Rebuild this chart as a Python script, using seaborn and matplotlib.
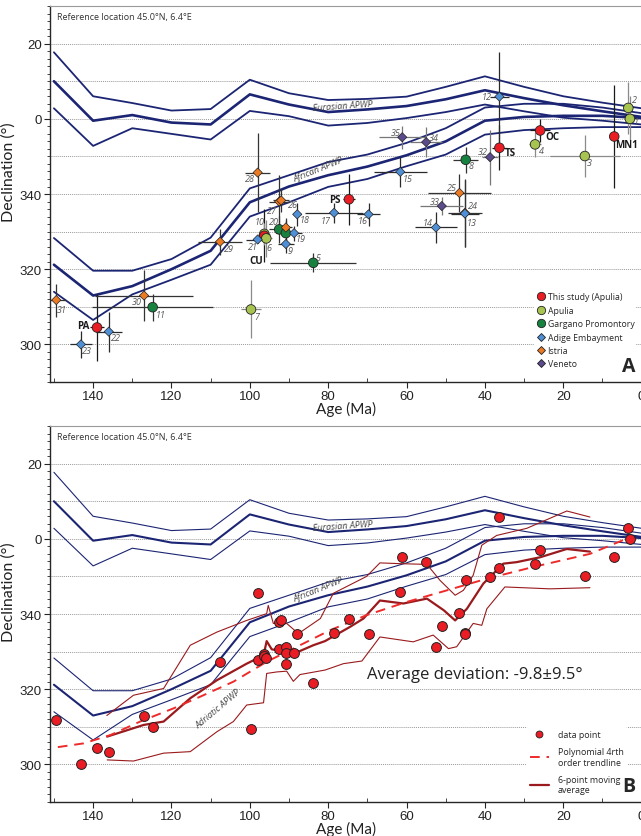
import numpy as np
import pandas as pd
import matplotlib
matplotlib.use('Agg')
import matplotlib.pyplot as plt
from matplotlib.lines import Line2D
import seaborn as sns

# ---- APWP curves (declination, 360 = 0 deg) ----
apwp_age = [150, 140, 130, 120, 110, 100, 90, 80, 70, 60, 50, 40, 30, 20, 10, 0]
eur_up = [377.7, 366.0, 364.2, 362.2, 362.6, 370.4, 366.8, 365.0, 365.3, 365.9, 368.5, 371.3, 368.5, 366.0, 364.3, 362.8]
eur_mid = [370.0, 359.5, 361.0, 359.0, 358.5, 366.5, 363.8, 361.8, 362.5, 363.4, 365.2, 367.6, 365.5, 363.6, 362.0, 360.5]
eur_lo = [362.8, 352.8, 357.5, 356.0, 354.5, 362.1, 360.7, 358.2, 358.9, 360.2, 361.8, 363.8, 362.0, 360.3, 359.5, 358.5]
af_up = [328.3, 319.6, 319.6, 322.7, 328.4, 341.5, 345.0, 348.5, 350.5, 353.6, 357.5, 363.0, 364.0, 364.0, 363.0, 361.5]
af_mid = [321.2, 313.0, 315.5, 320.0, 324.9, 337.8, 342.0, 345.0, 347.3, 350.3, 354.0, 359.5, 360.5, 360.8, 360.8, 360.2]
af_lo = [314.0, 306.5, 313.3, 317.2, 321.2, 334.0, 337.8, 341.9, 344.0, 347.4, 350.5, 355.8, 357.0, 357.5, 357.8, 357.8]

# ---- paleomagnetic sites ----
site_label = ['31', 'PA', '22', '23', '30', '11', '29', '7', '21', '10', 'CU', '6', '20', '', '',
              '19', '9', '18', '28', '27', '26', '17', 'PS', '16', '5', '15', '35', '34', '8', '32',
              'TS', '12', '25', '33', '24', '13', '14', 'OC', '4', '3', 'MN1', '2', '1']
site_group = ['Istria', 'This study (Apulia)', 'Adige Embayment', 'Adige Embayment', 'Istria',
              'Gargano Promontory', 'Istria', 'Apulia', 'Adige Embayment', 'Apulia',
              'This study (Apulia)', 'Apulia', 'Gargano Promontory', 'Istria', 'Gargano Promontory',
              'Adige Embayment', 'Adige Embayment', 'Adige Embayment', 'Istria', 'Istria', 'Istria',
              'Adige Embayment', 'This study (Apulia)', 'Adige Embayment', 'Gargano Promontory',
              'Adige Embayment', 'Veneto', 'Veneto', 'Gargano Promontory', 'Veneto',
              'This study (Apulia)', 'Adige Embayment', 'Istria', 'Veneto', 'Istria',
              'Adige Embayment', 'Adige Embayment', 'This study (Apulia)', 'Apulia', 'Apulia',
              'This study (Apulia)', 'Apulia', 'Apulia']
site_age = [149.4, 139.0, 136.0, 143.1, 127.0, 124.8, 107.6, 99.7, 98.0, 96.3, 96.3, 95.8, 92.5, 90.8, 90.8,
            88.7, 90.8, 87.9, 98.0, 92.5, 92.0, 78.5, 74.7, 69.7, 83.8, 61.6, 61.1, 55.0, 44.9, 38.7,
            36.3, 36.3, 46.5, 51.0, 45.1, 45.1, 52.5, 25.9, 27.2, 14.5, 7.0, 3.4, 3.0]
site_dec = [311.8, 304.5, 303.4, 300.0, 313.0, 309.9, 327.3, 309.3, 327.9, 329.4, 328.9, 328.2, 330.6, 331.1, 329.6,
            329.6, 326.7, 334.6, 345.7, 338.0, 338.3, 335.0, 338.6, 334.6, 321.7, 345.9, 355.1, 353.8, 349.1, 349.8,
            352.3, 365.9, 340.3, 336.8, 335.0, 334.8, 331.1, 356.9, 353.2, 350.1, 355.3, 362.9, 360.0]
site_age_err = [2.5, 1.7, 3.3, 2.8, 12.5, 15.4, 5.7, 2.5, 3.0, 1.5, 1.5, 1.5, 2.5, 1.5, 2.5,
                2.0, 2.0, 1.0, 3.2, 2.5, 2.0, 7.5, 1.5, 3.0, 11.0, 6.8, 6.0, 4.0, 3.2, 2.0,
                2.0, 2.5, 8.0, 5.5, 4.3, 3.5, 5.3, 2.5, 1.5, 9.0, 0.5, 1.0, 1.0]
site_dec_err = [4.4, 8.8, 5.3, 3.5, 6.8, 3.6, 3.5, 7.7, 1.0, 3.0, 7.0, 5.0, 3.5, 2.5, 3.5,
                2.0, 2.5, 3.0, 10.5, 7.0, 3.0, 2.7, 6.8, 3.0, 2.5, 4.0, 3.0, 4.0, 3.5, 7.3,
                6.0, 12.0, 5.0, 2.5, 9.0, 9.0, 4.0, 3.0, 3.3, 5.5, 13.7, 7.0, 6.0]

# ---- panel B curves ----
trend_age = [149.0, 142.4, 135.6, 128.0, 119.5, 112.7, 104.2, 95.7, 87.2, 79.5, 70.2, 60.0, 49.7, 39.5, 27.7, 13.2, 3.0]
trend_dec = [304.6, 305.6, 307.8, 311.4, 314.9, 318.0, 322.0, 327.3, 331.7, 335.7, 339.7, 343.2, 346.3, 349.4, 352.5, 356.0, 360.4]

ma_age = [136.4, 127.1, 122.0, 115.2, 108.4, 100.8, 96.5, 95.7, 94.4, 91.4, 89.7, 88.0, 83.8, 80.8, 74.4,
          71.0, 66.8, 60.8, 54.8, 50.5, 47.6, 44.6, 40.4, 35.3, 31.9, 25.9, 19.1, 13.2]
ma_dec = [307.4, 310.5, 311.4, 317.6, 322.4, 326.8, 329.0, 332.8, 330.6, 330.1, 329.2, 329.8, 331.7, 332.8, 336.6,
          338.8, 343.6, 342.8, 344.1, 341.0, 338.3, 341.4, 348.1, 353.4, 353.8, 355.1, 357.3, 356.6]
env_up_age = [136.5, 129.7, 122.0, 115.2, 108.4, 100.8, 95.7, 95.3, 94.0, 90.6, 87.6, 82.0, 78.7, 70.2, 66.8,
              61.7, 54.8, 51.5, 47.6, 45.5, 43.0, 40.8, 37.0, 29.3, 19.1, 13.2]
env_up_dec = [313.0, 318.4, 320.2, 331.7, 335.2, 338.3, 340.1, 342.3, 337.5, 337.5, 334.8, 338.8, 345.5, 350.0, 353.6,
              353.4, 353.2, 349.0, 345.0, 346.3, 350.3, 358.3, 360.9, 362.8, 367.4, 365.8]
env_lo_age = [136.4, 129.7, 122.0, 115.2, 108.4, 104.2, 100.8, 96.5, 95.7, 93.1, 90.6, 88.9, 87.2, 80.8, 76.1,
              71.4, 66.8, 58.3, 53.2, 49.3, 47.2, 43.0, 40.8, 39.5, 34.9, 23.4, 13.2]
env_lo_dec = [301.2, 300.9, 303.0, 303.4, 308.7, 311.4, 315.8, 316.4, 324.2, 324.6, 324.8, 322.1, 323.9, 325.1, 326.8,
              327.5, 333.9, 332.6, 334.4, 330.8, 331.3, 337.5, 337.0, 341.4, 347.2, 346.7, 347.0]

sites = pd.DataFrame({'label': site_label, 'group': site_group, 'age': site_age, 'dec': site_dec,
                      'age_err': site_age_err, 'dec_err': site_dec_err})

# styles
NAVY = '#1c2573'
RED = '#ea1c24'
DARKRED = '#9a1a1d'
group_colors = {'This study (Apulia)': '#ea1c24', 'Apulia': '#a7c450', 'Gargano Promontory': '#17823f',
                'Adige Embayment': '#4f8fd6', 'Istria': '#ec7a22', 'Veneto': '#5b4a8c'}
group_markers = {'This study (Apulia)': 'o', 'Apulia': 'o', 'Gargano Promontory': 'o',
                 'Adige Embayment': 'D', 'Istria': 'D', 'Veneto': 'D'}
err_colors = {'This study (Apulia)': '#1a1a1a', 'Apulia': '#8a8a8a', 'Gargano Promontory': '#333333',
              'Adige Embayment': '#2a2a2a', 'Istria': '#333333', 'Veneto': '#777777'}
# label offsets in pixels (dx, dy)
label_offsets = {'31': (6, -9), 'PA': (-14, 2), '22': (7, -6), '23': (6, -6), '30': (-7, -6),
                 '11': (8, -7), '29': (9, -7), '7': (6, -7), '21': (-5, -7), '10': (-5, 12),
                 'CU': (-8, -25), '6': (3, -9), '20': (-5, 8), '19': (7, -5), '9': (4, -6),
                 '18': (7, -5), '28': (-8, -6), '27': (-7, -9), '26': (12, -4), '17': (-8, -8),
                 'PS': (-14, 0), '16': (-6, -6), '5': (5, 5), '15': (7, -7), '35': (-6, 5),
                 '34': (8, 5), '8': (5, -6), '32': (-7, 6), 'TS': (11, -5), '12': (-13, 0),
                 '25': (-7, 5), '33': (-7, 5), '24': (8, 7), '13': (7, -9), '14': (-8, 5),
                 'OC': (12, -6), '4': (6, -6), '3': (4, -6), 'MN1': (12, -8), '2': (6, 8), '1': (6, -3)}

sns.set_style('ticks')
plt.rcParams['font.family'] = ['Liberation Sans', 'DejaVu Sans']
ANNOT = ['Open Sans', 'DejaVu Sans']
LABELF = ['Lato', 'DejaVu Sans']

fig = plt.figure(figsize=(6.41, 8.37), dpi=100)
ax_a = fig.add_axes([0.078, 0.5424, 0.923, 0.4492])
ax_b = fig.add_axes([0.078, 0.0406, 0.923, 0.4492])


def style_axes(ax, letter):
    ax.set_xlim(151, 0)
    ax.set_ylim(290, 390)
    ax.set_xticks([140, 120, 100, 80, 60, 40, 20, 0])
    ax.set_xticks(np.arange(10, 151, 20), minor=True)
    ax.set_yticks([300, 320, 340, 360, 380])
    ax.set_yticklabels(['300', '320', '340', '0', '20'])
    ax.set_yticks(np.arange(290, 391, 2), minor=True)
    ax.tick_params(axis='both', which='major', labelsize=9.5, length=4, width=0.8, pad=2,
                   labelcolor='#222222')
    ax.tick_params(axis='y', which='minor', length=2, width=0.6)
    ax.tick_params(axis='x', which='minor', length=3, width=0.6, direction='in')
    for v in range(290, 391, 10):
        ax.axhline(v, color='#9a9a9a', lw=0.7, ls=(0, (1, 1)), zorder=0)
    ax.spines['right'].set_visible(False)
    ax.spines['top'].set_color('#9a9a9a')
    ax.spines['top'].set_linewidth(0.8)
    ax.spines['left'].set_linewidth(1.0)
    ax.spines['bottom'].set_linewidth(1.0)
    ax.set_xlabel('Age (Ma)', fontsize=11, labelpad=-1, family=LABELF, color='#222222')
    ax.set_ylabel('Declination (°)', fontsize=11.5, family=LABELF, color='#222222')
    ax.yaxis.set_label_coords(-0.058, 0.56)
    ax.text(0.012, 0.972, 'Reference location 45.0°N, 6.4°E', transform=ax.transAxes,
            fontsize=6.5, color='#333333', va='center', family=ANNOT)
    ax.text(0.99, 0.015, letter, transform=ax.transAxes, fontsize=14, fontweight='bold',
            ha='right', va='bottom', family=ANNOT, zorder=10)


def draw_apwp(ax, lw_out, lw_mid):
    for vals, lw in [(eur_up, lw_out), (eur_mid, lw_mid), (eur_lo, lw_out),
                     (af_up, lw_out), (af_mid, lw_mid), (af_lo, lw_out)]:
        sns.lineplot(x=apwp_age, y=vals, ax=ax, color=NAVY, lw=lw, sort=False,
                     estimator=None, zorder=2)
    ax.text(76.3, 363.6, 'Eurasian APWP', fontsize=6.5, style='italic', color='#444444',
            rotation=4, ha='center', va='center', family=ANNOT, zorder=3)
    ax.text(82.6, 346.7, 'African APWP', fontsize=6.5, style='italic', color='#444444',
            rotation=22, ha='center', va='center', family=ANNOT, zorder=3)


# ---------------- panel A ----------------
style_axes(ax_a, 'A')
draw_apwp(ax_a, 1.3, 1.9)

for g in group_colors:
    sub = sites[sites['group'] == g]
    ax_a.errorbar(sub['age'], sub['dec'], xerr=sub['age_err'], yerr=sub['dec_err'], fmt='none',
                  ecolor=err_colors[g], elinewidth=0.9, capsize=0, zorder=3)

circ = sites[sites['group'].map(group_markers) == 'o']
diam = sites[sites['group'].map(group_markers) == 'D']
sns.scatterplot(data=circ, x='age', y='dec', hue='group', palette=group_colors, s=48,
                marker='o', edgecolor='#222222', linewidth=0.6, legend=False, ax=ax_a, zorder=4)
sns.scatterplot(data=diam, x='age', y='dec', hue='group', palette=group_colors, s=22,
                marker='D', edgecolor='#222222', linewidth=0.5, legend=False, ax=ax_a, zorder=4)

for _, r in sites.iterrows():
    if not r['label']:
        continue
    dx, dy = label_offsets[r['label']]
    bold = r['group'] == 'This study (Apulia)'
    ax_a.annotate(r['label'], (r['age'], r['dec']), xytext=(dx, dy), textcoords='offset pixels',
                  ha='center', va='center', fontsize=7 if bold else 6.5,
                  fontweight='bold' if bold else 'normal', style='normal' if bold else 'italic',
                  color='#1a1a1a' if bold else '#555555', family=ANNOT, zorder=5)

handles_a = [Line2D([], [], ls='none', marker=group_markers[g], color=group_colors[g],
                    markeredgecolor='#222222', markersize=6 if group_markers[g] == 'o' else 4.2,
                    markeredgewidth=0.6, label=g) for g in group_colors]
leg_a = ax_a.legend(handles=handles_a, loc='lower left', bbox_to_anchor=(0.81, 0.02),
                    frameon=True, handletextpad=0.2, labelspacing=0.5,
                    borderpad=0.2, handlelength=1.2, prop={'family': ANNOT, 'size': 6.3})
leg_a.get_frame().set_edgecolor('none')
leg_a.get_frame().set_facecolor('white')
leg_a.get_frame().set_alpha(1)
leg_a.set_zorder(6)

# ---------------- panel B ----------------
style_axes(ax_b, 'B')
draw_apwp(ax_b, 0.8, 1.5)

sns.lineplot(x=env_up_age, y=env_up_dec, ax=ax_b, color=DARKRED, lw=0.8, sort=False, estimator=None, zorder=3)
sns.lineplot(x=env_lo_age, y=env_lo_dec, ax=ax_b, color=DARKRED, lw=0.8, sort=False, estimator=None, zorder=3)
sns.lineplot(x=ma_age, y=ma_dec, ax=ax_b, color=DARKRED, lw=1.6, sort=False, estimator=None, zorder=3)
sns.lineplot(x=trend_age, y=trend_dec, ax=ax_b, color='#ee2b2b', lw=1.4, sort=False, estimator=None,
             linestyle=(0, (5, 3.5)), zorder=3)

sns.scatterplot(data=sites, x='age', y='dec', color=RED, s=50, edgecolor='#222222', linewidth=0.7,
                legend=False, ax=ax_b, zorder=4)

ax_b.text(108.0, 315.0, 'Adriatic APWP', fontsize=6.5, style='italic', color='#444444',
          rotation=40, ha='center', va='center', family=ANNOT, zorder=5)
ax_b.text(70.0, 324.0, 'Average deviation: -9.8±9.5°', fontsize=12, color='#222222',
          ha='left', va='center', family=ANNOT, zorder=5)

handles_b = [Line2D([], [], ls='none', marker='o', color=RED, markeredgecolor='#222222',
                    markersize=5, markeredgewidth=0.6, label='data point'),
             Line2D([], [], color='#ee2b2b', lw=1.4, ls=(0, (5, 3.5)),
                    label='Polynomial 4rth\norder trendline'),
             Line2D([], [], color=DARKRED, lw=1.6, label='6-point moving\naverage')]
leg_b = ax_b.legend(handles=handles_b, loc='lower left', bbox_to_anchor=(0.797, 0.0),
                    frameon=True, handletextpad=1.0, labelspacing=0.9, borderpad=0.4,
                    handlelength=2.2, prop={'family': ANNOT, 'size': 6.4})
leg_b.get_frame().set_edgecolor('none')
leg_b.get_frame().set_facecolor('white')
leg_b.get_frame().set_alpha(1)
leg_b.set_zorder(6)

fig.savefig('out.png', dpi=100)
